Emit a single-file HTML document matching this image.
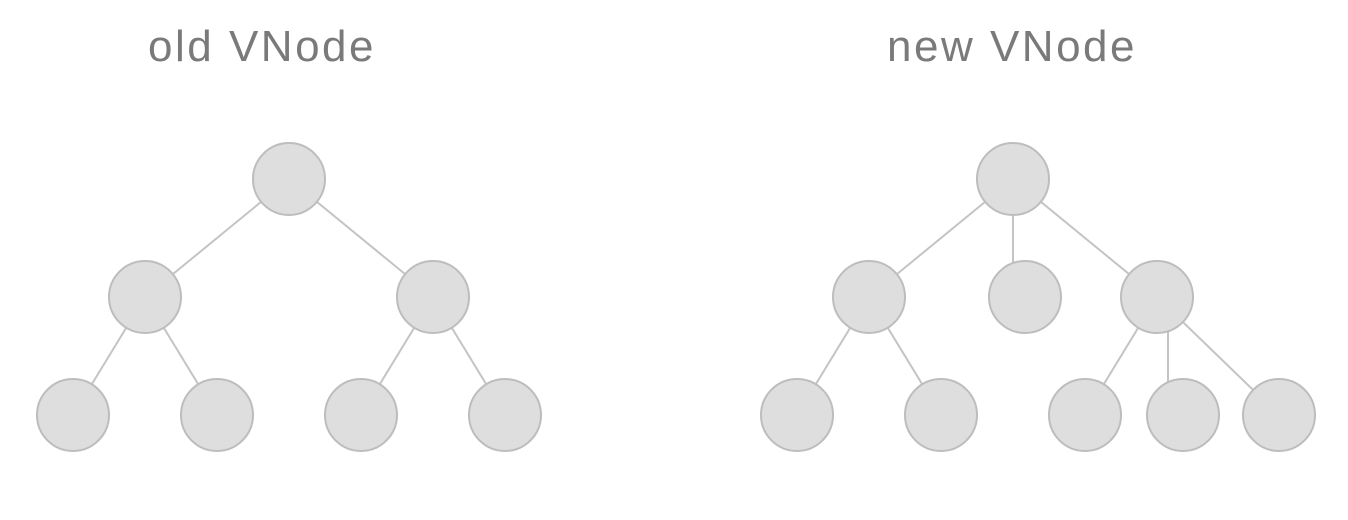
<!DOCTYPE html>
<html><head><meta charset="utf-8"><style>
html,body{margin:0;padding:0;background:#fff;width:1348px;height:520px;overflow:hidden}
svg{display:block}
text{font-family:"Liberation Sans",sans-serif;fill:#7a7a7a;font-size:44px;letter-spacing:2.5px}
</style></head><body>
<svg id="c" width="1348" height="520">
<text x="262" y="61" text-anchor="middle">old VNode</text>
<text x="1012" y="61" text-anchor="middle">new VNode</text>
</svg>
<script>
const oldNodes=[[289,179],[145,297],[433,297],[73,415],[217,415],[361,415],[505,415]];
const oldEdges=[[0,1],[0,2],[1,3],[1,4],[2,5],[2,6]];
const newNodes=[[1013,179],[869,297],[1025,297],[1157,297],[797,415],[941,415],[1085,415],[1183,415],[1279,415]];
const newEdges=[[0,1],[0,2],[0,3],[1,4],[1,5],[3,6],[3,7],[3,8]];
const svg=document.getElementById('c');
const NS='http://www.w3.org/2000/svg';
function draw(nodes,edges,prefix){
  edges.forEach(([a,b],i)=>{
    const l=document.createElementNS(NS,'line');
    let x1=nodes[a][0],x2=nodes[b][0];
    if(Math.abs(x1-x2)<40){
      if(b===2){x2=x1;}else{x1=x2=nodes[b][0]-15;}
    }
    l.setAttribute('x1',x1);l.setAttribute('y1',nodes[a][1]);
    l.setAttribute('x2',x2);l.setAttribute('y2',nodes[b][1]);
    l.setAttribute('stroke','#c4c4c4');l.setAttribute('stroke-width','2');
    
    
    svg.appendChild(l);
  });
  nodes.forEach(([x,y],i)=>{
    const c=document.createElementNS(NS,'circle');
    c.setAttribute('cx',x);c.setAttribute('cy',y);c.setAttribute('r',36);
    c.setAttribute('fill','#dedede');c.setAttribute('stroke','#bdbdbd');c.setAttribute('stroke-width','2');
    
    
    svg.appendChild(c);
  });
}
draw(oldNodes,oldEdges,'old');
draw(newNodes,newEdges,'new');
</script>
</body></html>
